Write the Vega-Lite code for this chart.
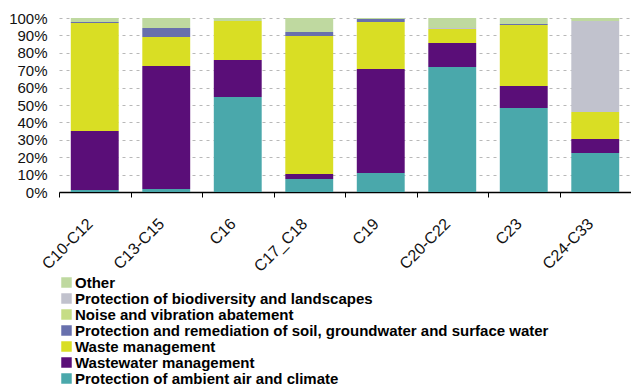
{
  "$schema": "https://vega.github.io/schema/vega-lite/v6.json",
  "width": 572,
  "height": 174,
  "autosize": {"type": "none"},
  "padding": {"left": 59, "top": 18, "right": 0, "bottom": 195},
  "background": "white",
  "config": {
    "view": {"stroke": null},
    "font": "Liberation Sans"
  },
  "datasets": {
    "stackOrder": [
      {"domain": "Protection of ambient air and climate", "rank": 1},
      {"domain": "Wastewater management", "rank": 2},
      {"domain": "Waste management", "rank": 3},
      {"domain": "Protection and remediation of soil, groundwater and surface water", "rank": 4},
      {"domain": "Noise and vibration abatement", "rank": 5},
      {"domain": "Protection of biodiversity and landscapes", "rank": 6},
      {"domain": "Other", "rank": 7}
    ],
    "shares": [
      {"sector": "C10-C12", "domain": "Protection of ambient air and climate", "share": 1.2},
      {"sector": "C10-C12", "domain": "Wastewater management", "share": 33.8},
      {"sector": "C10-C12", "domain": "Waste management", "share": 62.1},
      {"sector": "C10-C12", "domain": "Protection and remediation of soil, groundwater and surface water", "share": 0.6},
      {"sector": "C10-C12", "domain": "Other", "share": 2.3},

      {"sector": "C13-C15", "domain": "Protection of ambient air and climate", "share": 1.7},
      {"sector": "C13-C15", "domain": "Wastewater management", "share": 70.7},
      {"sector": "C13-C15", "domain": "Waste management", "share": 16.7},
      {"sector": "C13-C15", "domain": "Protection and remediation of soil, groundwater and surface water", "share": 5.2},
      {"sector": "C13-C15", "domain": "Other", "share": 5.7},

      {"sector": "C16", "domain": "Protection of ambient air and climate", "share": 54.6},
      {"sector": "C16", "domain": "Wastewater management", "share": 21.3},
      {"sector": "C16", "domain": "Waste management", "share": 22.4},
      {"sector": "C16", "domain": "Other", "share": 1.7},

      {"sector": "C17_C18", "domain": "Protection of ambient air and climate", "share": 7.5},
      {"sector": "C17_C18", "domain": "Wastewater management", "share": 2.8},
      {"sector": "C17_C18", "domain": "Waste management", "share": 79.4},
      {"sector": "C17_C18", "domain": "Protection and remediation of soil, groundwater and surface water", "share": 2.3},
      {"sector": "C17_C18", "domain": "Other", "share": 8.0},

      {"sector": "C19", "domain": "Protection of ambient air and climate", "share": 10.9},
      {"sector": "C19", "domain": "Wastewater management", "share": 59.8},
      {"sector": "C19", "domain": "Waste management", "share": 27.0},
      {"sector": "C19", "domain": "Protection and remediation of soil, groundwater and surface water", "share": 1.7},
      {"sector": "C19", "domain": "Other", "share": 0.6},

      {"sector": "C20-C22", "domain": "Protection of ambient air and climate", "share": 71.8},
      {"sector": "C20-C22", "domain": "Wastewater management", "share": 13.8},
      {"sector": "C20-C22", "domain": "Waste management", "share": 8.1},
      {"sector": "C20-C22", "domain": "Protection of biodiversity and landscapes", "share": 0.6},
      {"sector": "C20-C22", "domain": "Other", "share": 5.7},

      {"sector": "C23", "domain": "Protection of ambient air and climate", "share": 48.3},
      {"sector": "C23", "domain": "Wastewater management", "share": 12.6},
      {"sector": "C23", "domain": "Waste management", "share": 35.1},
      {"sector": "C23", "domain": "Protection and remediation of soil, groundwater and surface water", "share": 0.6},
      {"sector": "C23", "domain": "Other", "share": 3.4},

      {"sector": "C24-C33", "domain": "Protection of ambient air and climate", "share": 22.4},
      {"sector": "C24-C33", "domain": "Wastewater management", "share": 8.1},
      {"sector": "C24-C33", "domain": "Waste management", "share": 15.5},
      {"sector": "C24-C33", "domain": "Protection of biodiversity and landscapes", "share": 52.3},
      {"sector": "C24-C33", "domain": "Other", "share": 1.7}
    ]
  },
  "data": {"name": "shares"},
  "transform": [
    {"lookup": "domain", "from": {"data": {"name": "stackOrder"}, "key": "domain", "fields": ["rank"]}}
  ],
  "mark": {"type": "bar", "width": {"band": 0.67}},
  "encoding": {
    "x": {
      "field": "sector",
      "type": "nominal",
      "sort": null,
      "title": null,
      "scale": {"paddingInner": 0, "paddingOuter": 0},
      "axis": {
        "labelAngle": -45,
        "labelAlign": "right",
        "labelBaseline": "middle",
        "labelFontSize": 16,
        "labelColor": "#111111",
        "labelPadding": 24,
        "labelOffset": -5,
        "tickBand": "extent",
        "tickColor": "#000000",
        "tickSize": 5,
        "domainColor": "#000000",
        "domainWidth": 1.5,
        "grid": false
      }
    },
    "y": {
      "field": "share",
      "type": "quantitative",
      "stack": "normalize",
      "title": null,
      "scale": {"domain": [0, 1]},
      "axis": {
        "format": ".0%",
        "values": [0, 0.1, 0.2, 0.3, 0.4, 0.5, 0.6, 0.7, 0.8, 0.9, 1],
        "labelOverlap": false,
        "labelFontSize": 15,
        "labelColor": "#111111",
        "labelPadding": 12,
        "ticks": false,
        "domain": false,
        "grid": true,
        "gridColor": "#b8b8b8",
        "gridDash": [3, 4],
        "gridWidth": 1
      }
    },
    "order": {"field": "rank", "type": "quantitative", "sort": "ascending"},
    "color": {
      "field": "domain",
      "type": "nominal",
      "scale": {
        "domain": [
          "Other",
          "Protection of biodiversity and landscapes",
          "Noise and vibration abatement",
          "Protection and remediation of soil, groundwater and surface water",
          "Waste management",
          "Wastewater management",
          "Protection of ambient air and climate"
        ],
        "range": ["#bfd9a0", "#c1c2cd", "#c6dd86", "#6870ad", "#d9de24", "#5a0e78", "#4aa8ab"]
      },
      "legend": {
        "orient": "none",
        "legendX": 0,
        "legendY": 257,
        "title": null,
        "symbolType": "square",
        "symbolSize": 110,
        "symbolStrokeWidth": 0,
        "symbolOpacity": 1,
        "labelFontSize": 15,
        "labelFontWeight": "bold",
        "labelColor": "#000000",
        "labelOffset": 1,
        "labelLimit": 600,
        "rowPadding": 0
      }
    }
  }
}
